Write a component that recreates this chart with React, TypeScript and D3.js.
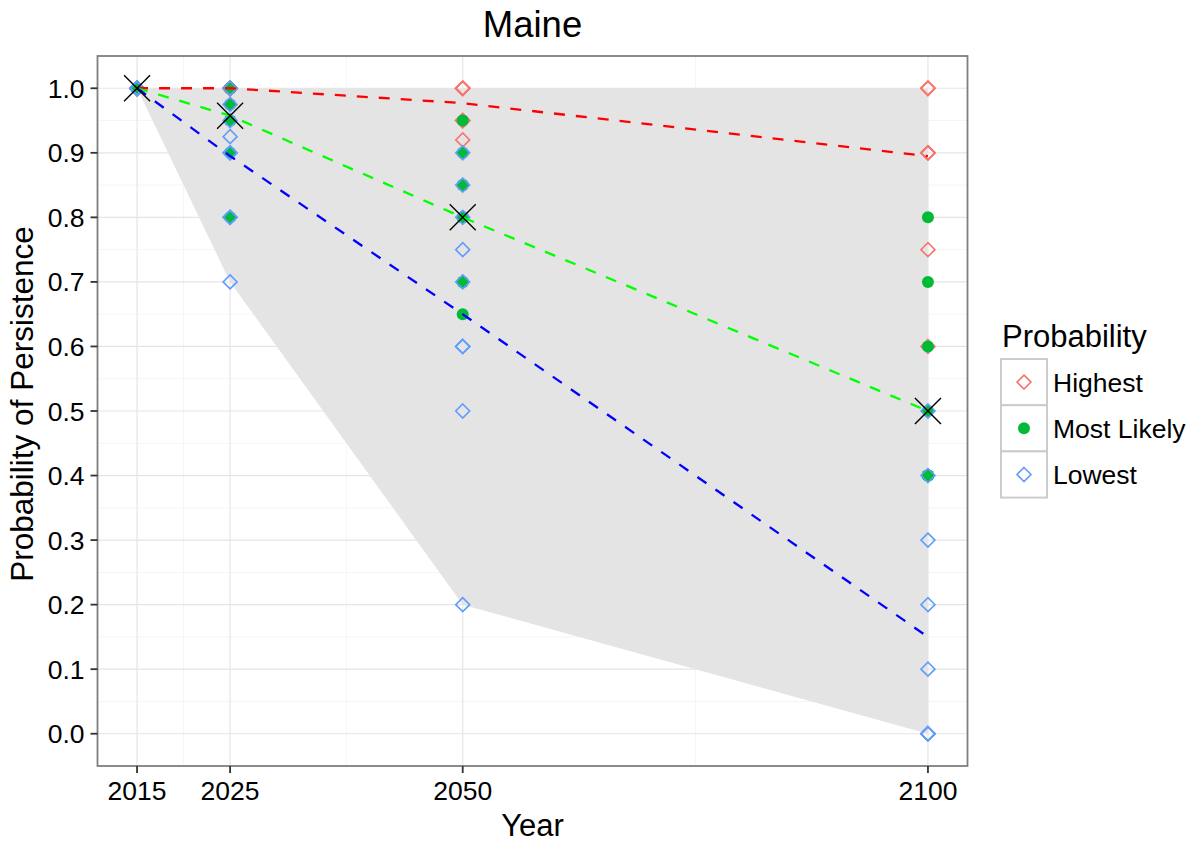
import React from 'react';
import * as d3 from 'd3';

// ---- data ----
const years = [2015, 2025, 2050, 2100];

// Highest estimates, one list per year
const highestValues: number[][] = [
  [1, 1, 1, 1, 1, 1, 1, 1, 1, 1],
  [1, 1, 1, 1, 1, 1, 1, 1, 1, 1],
  [1, 1, 1, 1, 1, 1, 0.95, 0.95, 0.95, 0.92],
  [1, 1, 1, 1, 0.9, 0.9, 0.9, 0.9, 0.75, 0.6],
];

// Most likely estimates, one list per year
const mostLikelyValues: number[][] = [
  [1, 1, 1, 1, 1, 1, 1, 1, 1, 1],
  [1, 1, 1, 1, 1, 0.975, 0.95, 0.95, 0.9, 0.8],
  [0.95, 0.9, 0.85, 0.85, 0.8, 0.8, 0.8, 0.7, 0.7, 0.65],
  [0.8, 0.7, 0.6, 0.5, 0.4, 0.4, 0.4, 0.4, 0.4, 0.4],
];

// Lowest estimates, one list per year
const lowestValues: number[][] = [
  [1, 1, 1, 1, 1, 1, 1, 1, 1, 1],
  [1, 1, 0.975, 0.95, 0.925, 0.9, 0.9, 0.8, 0.8, 0.7],
  [0.9, 0.85, 0.8, 0.75, 0.7, 0.6, 0.6, 0.6, 0.5, 0.2],
  [0.5, 0.4, 0.3, 0.2, 0.1, 0, 0, 0, 0, 0],
];

const yTicks = [0, 0.1, 0.2, 0.3, 0.4, 0.5, 0.6, 0.7, 0.8, 0.9, 1.0];
const legendLabels = ['Highest', 'Most Likely', 'Lowest'];

const title = 'Maine';
const xTitle = 'Year';
const yTitle = 'Probability of Persistence';
const legendTitle = 'Probability';

// ---- styles ----
const FONT = '"Liberation Sans", Arial, Helvetica, sans-serif';
const pointColors = ['#F8766D', '#00BA38', '#619CFF'];
const lineColors = ['#FF0000', '#00FF00', '#0000FF'];

export default function App() {
  const W = 1196;
  const H = 846;
  const left = 97.5, right = 967.5, top = 56, bottom = 766;

  const x = d3.scaleLinear().domain([2010.75, 2104.25]).range([left, right]);
  const y = d3.scaleLinear().domain([-0.05, 1.05]).range([bottom, top]);

  const xMinor = years.slice(1).map((yr, i) => (yr + years[i]) / 2);
  const yMinor = yTicks.slice(1).map((v, i) => (v + yTicks[i]) / 2);

  const ribbonData = years.map((yr, i) => ({
    year: yr,
    lo: d3.min([...highestValues[i], ...mostLikelyValues[i], ...lowestValues[i]]) as number,
    hi: d3.max([...highestValues[i], ...mostLikelyValues[i], ...lowestValues[i]]) as number,
  }));
  const area = d3
    .area<{ year: number; lo: number; hi: number }>()
    .x((d) => x(d.year))
    .y0((d) => y(d.lo))
    .y1((d) => y(d.hi));

  const series = [highestValues, mostLikelyValues, lowestValues];
  const means = series.map((s) => years.map((yr, i) => ({ year: yr, v: d3.mean(s[i]) as number })));
  const line = d3
    .line<{ year: number; v: number }>()
    .x((d) => x(d.year))
    .y((d) => y(d.v));

  const R = 7;
  const diamond = (cx: number, cy: number, r: number) =>
    `M${cx},${cy - r}L${cx + r},${cy}L${cx},${cy + r}L${cx - r},${cy}Z`;

  const renderPoint = (k: number, cx: number, cy: number, key: string) =>
    k === 1 ? (
      <circle key={key} cx={cx} cy={cy} r={6} fill={pointColors[1]} />
    ) : (
      <path key={key} d={diamond(cx, cy, R)} fill="none" stroke={pointColors[k]} strokeWidth={1.6} />
    );

  const X = 13;

  // legend layout
  const legX = 1001, legY = 359, keyW = 46, keyH = 46.2;
  const tickFont = 26.5;

  return (
    <svg
      width={W}
      height={H}
      style={{ position: 'absolute', left: 0, top: 0, background: '#fff' }}
      fontFamily={FONT}
    >
      <rect x={0} y={0} width={W} height={H} fill="#fff" />
      {/* grid */}
      {xMinor.map((v) => (
        <line key={'xm' + v} x1={x(v)} x2={x(v)} y1={top} y2={bottom} stroke="#F5F5F5" strokeWidth={1} />
      ))}
      {yMinor.map((v) => (
        <line key={'ym' + v} x1={left} x2={right} y1={y(v)} y2={y(v)} stroke="#F5F5F5" strokeWidth={1} />
      ))}
      {years.map((v) => (
        <line key={'xg' + v} x1={x(v)} x2={x(v)} y1={top} y2={bottom} stroke="#E5E5E5" strokeWidth={1.2} />
      ))}
      {yTicks.map((v) => (
        <line key={'yg' + v} x1={left} x2={right} y1={y(v)} y2={y(v)} stroke="#E5E5E5" strokeWidth={1.2} />
      ))}

      {/* ribbon */}
      <path d={area(ribbonData) as string} fill="#E4E4E4" />

      {/* points */}
      {series.map((s, k) =>
        s.map((vals, i) => vals.map((v, j) => renderPoint(k, x(years[i]), y(v), `p${k}-${i}-${j}`)))
      )}

      {/* mean lines */}
      {means.map((m, k) => (
        <path
          key={'ln' + k}
          d={line(m) as string}
          fill="none"
          stroke={lineColors[k]}
          strokeWidth={2.3}
          strokeDasharray="11,11"
        />
      ))}

      {/* X marks at most likely means */}
      {means[1].map((d) => (
        <g key={'x' + d.year} stroke="#000" strokeWidth={1.4}>
          <line x1={x(d.year) - X} y1={y(d.v) - X} x2={x(d.year) + X} y2={y(d.v) + X} />
          <line x1={x(d.year) - X} y1={y(d.v) + X} x2={x(d.year) + X} y2={y(d.v) - X} />
        </g>
      ))}

      {/* panel border */}
      <rect x={left} y={top} width={right - left} height={bottom - top} fill="none" stroke="#7F7F7F" strokeWidth={1.8} />

      {/* y axis */}
      {yTicks.map((v) => (
        <g key={'yt' + v}>
          <line x1={left - 7} x2={left} y1={y(v)} y2={y(v)} stroke="#333" strokeWidth={1.8} />
          <text x={left - 13} y={y(v)} dy="0.36em" textAnchor="end" fontSize={tickFont} fill="#000">
            {v.toFixed(1)}
          </text>
        </g>
      ))}
      {/* x axis */}
      {years.map((v) => (
        <g key={'xt' + v}>
          <line x1={x(v)} x2={x(v)} y1={bottom} y2={bottom + 7} stroke="#333" strokeWidth={1.8} />
          <text x={x(v)} y={800} textAnchor="middle" fontSize={tickFont} fill="#000">
            {v}
          </text>
        </g>
      ))}

      {/* titles */}
      <text x={(left + right) / 2} y={37} textAnchor="middle" fontSize={36.5} fill="#000">
        {title}
      </text>
      <text x={(left + right) / 2} y={836} textAnchor="middle" fontSize={31} fill="#000">
        {xTitle}
      </text>
      <text transform={`translate(33,404) rotate(-90)`} textAnchor="middle" fontSize={31.5} fill="#000">
        {yTitle}
      </text>

      {/* legend */}
      <text x={1002} y={347} fontSize={31} fill="#000">
        {legendTitle}
      </text>
      {legendLabels.map((lab, k) => {
        const ky = legY + k * keyH;
        const cx = legX + keyW / 2;
        const cy = ky + keyH / 2;
        return (
          <g key={'lg' + k}>
            <rect x={legX} y={ky} width={keyW} height={keyH} fill="#fff" stroke="#CCCCCC" strokeWidth={2} />
            {renderPoint(k, cx, cy, 'lp' + k)}
            <text x={1053} y={cy} dy="0.36em" fontSize={tickFont} fill="#000">
              {lab}
            </text>
          </g>
        );
      })}
    </svg>
  );
}
